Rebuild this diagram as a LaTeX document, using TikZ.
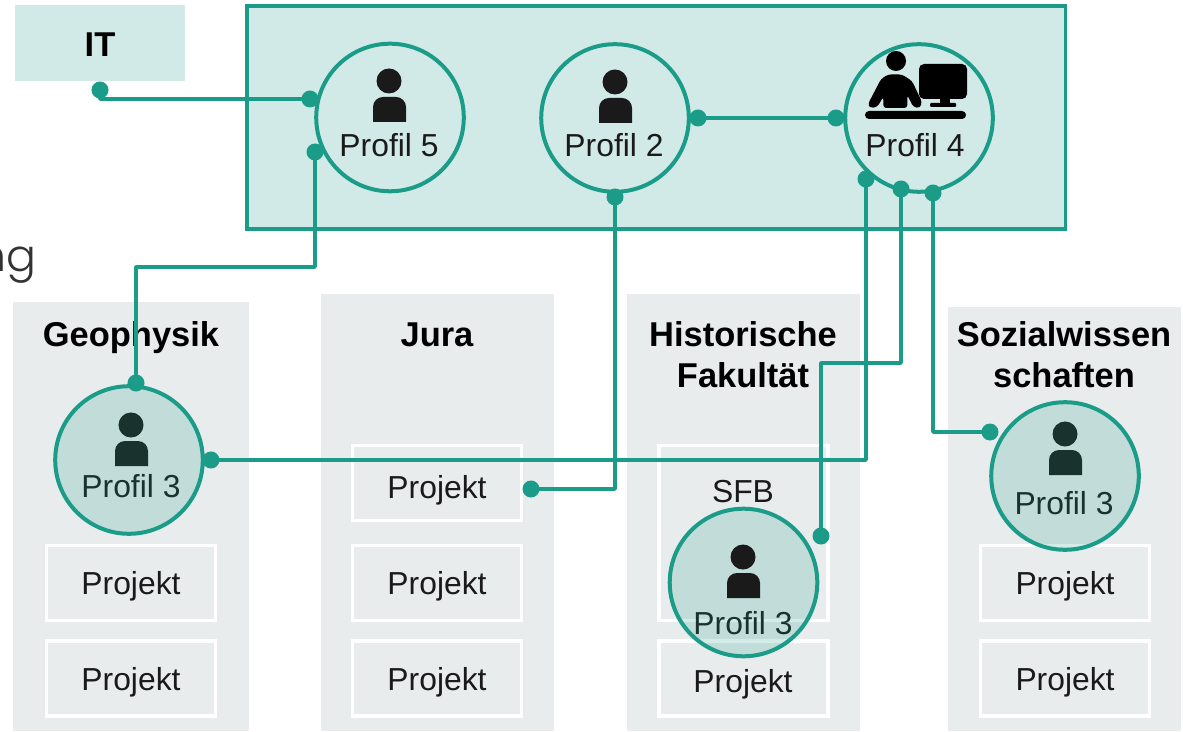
\documentclass[tikz,border=0pt]{standalone}
\usepackage{fontspec}
\setmainfont{Liberation Sans}
\newfontfamily\lightfont{Poppins Light}
\usepackage{xcolor}
\usetikzlibrary{arrows.meta,positioning}
\definecolor{linkteal}{RGB}{27,156,136}
\definecolor{itmint}{RGB}{210,234,231}
\definecolor{facgrey}{RGB}{232,236,236}
\definecolor{inkdark}{RGB}{26,26,26}

\begin{document}
\begin{tikzpicture}[
    x=0.01cm, y=-0.01cm,
    facbox/.style={fill=facgrey, inner sep=0pt},
    projbox/.style={draw=white, line width=0.035cm, inner sep=0pt,
        minimum width=1.69cm, minimum height=0.75cm, text depth=0pt,
        font=\fontsize{9.05}{11}\selectfont, text=inkdark},
    profcircle/.style={circle, draw=linkteal, line width=0.04cm, inner sep=0pt,
        minimum size=1.475cm},
    proflabel/.style={inner sep=0pt, font=\fontsize{9.05}{11}\selectfont, text=inkdark},
    facttitle/.style={inner sep=0pt, align=center, text=black,
        font=\fontsize{9.8}{11.7}\selectfont\bfseries},
    linkdot/.style={circle, fill=linkteal, inner sep=0pt, minimum size=0.17cm},
    linkline/.style={draw=linkteal, line width=0.035cm, line join=round},
    person/.pic={
        \fill (0,0) circle (0.125cm);
        \fill[rounded corners=0.1cm] (-16,41) -- (-16,16) -- (17,16) -- (17,41);
    },
]
\useasboundingbox (0,0) rectangle (1183,731);

% === Cut-off heading at the left edge ===
\node[inner sep=0pt, anchor=base east, text=black!80, font=\fontsize{12.6}{15}\lightfont] (cuttext) at (37,272) {ng};

% === Faculties ===
\node[facbox, minimum width=2.36cm, minimum height=4.29cm] (geo) at (131,516.5) {};
\node[facbox, minimum width=2.33cm, minimum height=4.37cm] (jura) at (437.5,512.5) {};
\node[facbox, minimum width=2.33cm, minimum height=4.37cm] (hist) at (743.5,512.5) {};
\node[facbox, minimum width=2.33cm, minimum height=4.24cm] (sozial) at (1064.5,519) {};

\node[facttitle] (geotitle) at (131,338) {Geophysik};
\node[facttitle] (juratitle) at (437,335) {Jura};
\node[facttitle] (histtitle) at (743,355) {Historische\\Fakultät};
\node[facttitle] (sozialtitle) at (1064,355) {Sozialwissen\\schaften};

% Projects
\node[projbox] (geoa) at (131,583) {Projekt};
\node[projbox] (geob) at (131,678.5) {Projekt};
\node[projbox] (juraa) at (437,483) {};
\node[proflabel] (juraatext) at (437,490) {Projekt};
\node[projbox] (jurab) at (437,583) {Projekt};
\node[projbox] (juric) at (437,678.5) {Projekt};
\node[draw=white, line width=0.035cm, inner sep=0pt, minimum width=1.69cm, minimum height=1.75cm] (sfb) at (743.5,533) {};
\node[proflabel] (sfbtext) at (743,492) {SFB};
\node[projbox] (histb) at (743.5,678.5) {};
\node[proflabel] (histbtext) at (743,684) {Projekt};
\node[projbox] (soza) at (1065,583) {Projekt};
\node[projbox] (sozb) at (1065,678.5) {Projekt};

% === IT block ===
\node[fill=itmint, inner sep=0pt, minimum width=1.70cm, minimum height=0.76cm] (it) at (100,43) {};
\node[facttitle] (ittext) at (100,45) {IT};
\node[draw=linkteal, fill=itmint, line width=0.035cm, inner sep=0pt,
    minimum width=8.18cm, minimum height=2.23cm] (itbig) at (656,117.5) {};

% === Profiles in the IT block ===
\node[profcircle] (pfive) at (390,117.5) {};
\node[proflabel] (pfivetext) at (389,145) {Profil 5};
\pic[inkdark] at (389,81) {person};

\node[profcircle] (ptwo) at (615,118) {};
\node[proflabel] (ptwotext) at (614,145) {Profil 2};
\pic[inkdark] at (615,82) {person};

\node[profcircle] (pfour) at (919,118) {};
\node[proflabel] (pfourtext) at (915,145) {Profil 4};

% Worker at the screen
\fill (896,61) circle (0.10cm);
\fill[rounded corners=0.03cm] (868,104) -- (881,79) -- (888,74.5) -- (902,74.5) -- (912,81)
    -- (922,102) -- (920,108) -- (913.3,107) -- (907.3,95) -- (907.3,108) -- (883.3,108)
    -- (883.3,96.7) -- (877.3,107) -- (870,108) -- cycle;
\fill[rounded corners=0.05cm] (919,64) rectangle (967,99);
\fill (940,98) rectangle (950,104);
\fill[rounded corners=0.01cm] (930,103) rectangle (956,107);
\fill[rounded corners=0.04cm] (865,111) rectangle (966,119);

% === Profiles in the faculties ===
\node[proflabel] (pgeotext) at (131,486) {Profil 3};
\pic[inkdark] at (131,425) {person};
\node[profcircle, fill=linkteal, fill opacity=0.19] (pgeo) at (129,460) {};

\node[proflabel] (phisttext) at (743,623) {Profil 3};
\node[profcircle, fill=linkteal, fill opacity=0.19] (phist) at (743.5,582.5) {};
\pic[inkdark] at (743,557) {person};

\node[proflabel] (psoztext) at (1064,503) {Profil 3};
\pic[inkdark] at (1065,434) {person};
\node[profcircle, fill=linkteal, fill opacity=0.19] (psoz) at (1065,476) {};

% === Connection dots ===
\node[linkdot] (ditout) at (100,90) {};
\node[linkdot] (dfivea) at (310,99) {};
\node[linkdot] (dfiveb) at (315,152) {};
\node[linkdot] (dgeotop) at (136,383) {};
\node[linkdot] (dtwor) at (698,118) {};
\node[linkdot] (dfourl) at (836,118) {};
\node[linkdot] (dtwob) at (615,197) {};
\node[linkdot] (djura) at (531,489) {};
\node[linkdot] (dfoura) at (866,179) {};
\node[linkdot] (dgeor) at (211,460) {};
\node[linkdot] (dfourb) at (901,189) {};
\node[linkdot] (dhist) at (821,536) {};
\node[linkdot] (dfourc) at (933,193) {};
\node[linkdot] (dsoz) at (990,432) {};

% Bends
\coordinate (bendgeo) at (136,267);
\coordinate (bendhist) at (821,363);

% === Connections ===
\draw[linkline] (ditout.center) |- (dfivea.center);
\draw[linkline] (dfiveb.center) |- (bendgeo) -- (dgeotop.center);
\draw[linkline] (dtwor.center) -- (dfourl.center);
\draw[linkline] (dtwob.center) |- (djura.center);
\draw[linkline] (dfoura.center) |- (dgeor.center);
\draw[linkline] (dfourb.center) |- (bendhist) -- (dhist.center);
\draw[linkline] (dfourc.center) |- (dsoz.center);

\end{tikzpicture}
\end{document}
